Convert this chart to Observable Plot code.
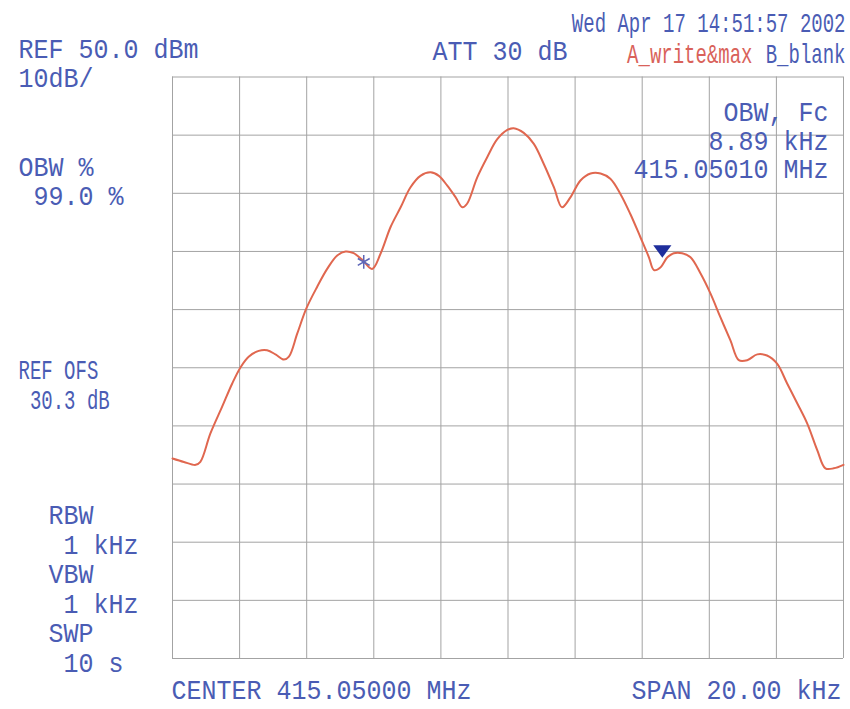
<!DOCTYPE html>
<html><head><meta charset="utf-8">
<script src="https://cdn.jsdelivr.net/npm/d3@7"></script>
<script src="https://cdn.jsdelivr.net/npm/@observablehq/plot@0.6"></script>
<style>html,body{margin:0;padding:0;background:#fff;} #chart{width:850px;height:709px;}</style>
</head><body><div id="chart"></div>
<script>
// ---- data (frequency offset from centre, kHz; level, dBm) ----
const freqKHz = [-10.0, -9.66, -9.31, -9.17, -8.87, -8.52, -8.22, -7.97, -7.73, -7.43, -7.18, -6.93, -6.68, -6.53, -6.28, -6.01, -5.69, -5.39, -5.09, -4.84, -4.60, -4.35, -4.05, -3.80, -3.50, -3.20, -2.91, -2.61, -2.31, -2.06, -1.81, -1.56, -1.36, -1.22, -0.92, -0.62, -0.32, -0.02, 0.17, 0.47, 0.77, 1.07, 1.37, 1.61, 1.86, 2.16, 2.46, 2.76, 3.05, 3.35, 3.65, 3.95, 4.20, 4.35, 4.55, 4.75, 4.94, 5.19, 5.44, 5.74, 6.04, 6.33, 6.63, 6.88, 7.13, 7.43, 7.72, 8.02, 8.32, 8.62, 8.92, 9.22, 9.46, 9.71, 10.0];
const levelDBm = [-15.6, -16.2, -16.7, -16.2, -11.3, -6.7, -2.7, 0.1, 1.9, 2.9, 3.0, 2.3, 1.4, 1.9, 5.9, 10.2, 13.9, 17.0, 19.3, 20.0, 19.7, 18.6, 17.0, 19.6, 24.2, 27.6, 31.0, 33.0, 33.6, 33.0, 31.3, 29.3, 27.6, 28.2, 32.7, 36.2, 39.3, 40.9, 41.2, 40.4, 38.5, 35.0, 31.0, 27.6, 29.3, 32.2, 33.4, 33.4, 32.5, 29.9, 26.4, 22.4, 19.0, 16.8, 17.3, 19.0, 19.7, 19.7, 19.0, 16.2, 12.7, 8.7, 4.7, 1.3, 1.3, 2.3, 2.1, 0.7, -2.7, -6.1, -9.6, -14.2, -17.3, -17.3, -16.7];
const gridFreq = [-10, -8, -6, -4, -2, 0, 2, 4, 6, 8, 10];
const gridLevel = [-50, -40, -30, -20, -10, 0, 10, 20, 30, 40, 50];
const starMarkerFreq = [-4.30];
const starMarkerLevel = [18.2];
const deltaMarkerFreq = [4.60];
const deltaMarkerLevel = [20.0];

// ---- texts ----
const refLabels = ["REF 50.0 dBm", "10dB/"];
const attLabel = "ATT 30 dB";
const dateLabel = "Wed Apr 17 14:51:57 2002";
const traceALabel = "A_write&max";
const traceBLabel = "B_blank";
const obwFcLabels = ["OBW, Fc", "8.89 kHz", "415.05010 MHz"];
const obwPctLabels = ["OBW %", "\u00a099.0 %"];
const refOfsLabels = ["REF OFS", "\u00a030.3 dB"];
const bwLabels = ["RBW", "\u00a01 kHz", "VBW", "\u00a01 kHz", "SWP", "\u00a010 s"];
const centerLabel = "CENTER 415.05000 MHz";
const spanLabel = "SPAN 20.00 kHz";

// ---- layout / style ----
const W = 850, H = 709;
const mL = 172, mT = 76.5, mR = 7, mB = 51;
const BLUE = "#4a5cb4", RED = "#d9625a", TRACE = "#e0674f", GRID = "#a3a3a3";
const FONT = "Liberation Mono, DejaVu Sans Mono, monospace";
const BIG = {s: 25, sy: 1.1}, SMALL = {s: 19, sy: 1.5};

// x, y = anchor (y = vertical centre of block), gap = pixel line spacing
const place = [
  {t: refLabels.join("\n"), x: 18, y: 63, gap: 29, a: "start", f: BIG},
  {t: attLabel, x: 432, y: 51, a: "start", f: BIG},
  {t: dateLabel, x: 845, y: 22, a: "end", f: SMALL},
  {t: traceALabel, x: 752, y: 53, a: "end", f: SMALL, c: RED},
  {t: traceBLabel, x: 845, y: 53, a: "end", f: SMALL},
  {t: obwFcLabels.join("\n"), x: 828, y: 140, gap: 28.5, a: "end", f: BIG},
  {t: obwPctLabels.join("\n"), x: 18, y: 180.5, gap: 29, a: "start", f: BIG},
  {t: refOfsLabels.join("\n"), x: 18, y: 384, gap: 30, a: "start", f: SMALL},
  {t: bwLabels.join("\n"), x: 48, y: 588, gap: 29.6, a: "start", f: BIG},
  {t: centerLabel, x: 171, y: 690, a: "start", f: BIG},
  {t: spanLabel, x: 841, y: 690, a: "end", f: BIG}
];

const trace = freqKHz.map((f, i) => ({f, l: levelDBm[i]}));
const stars = starMarkerFreq.map((f, i) => ({f, l: starMarkerLevel[i]}));
const deltas = deltaMarkerFreq.map((f, i) => ({f, l: deltaMarkerLevel[i]}));

const triDown = {
  draw(ctx, size) {
    const r = Math.sqrt(size / Math.PI);
    ctx.moveTo(-1.3 * r, -0.9 * r);
    ctx.lineTo(1.3 * r, -0.9 * r);
    ctx.lineTo(0, 0.9 * r);
    ctx.closePath();
  }
};

const textMarks = place.map(p => Plot.text([p.t], {
  text: d => d,
  frameAnchor: "top-left",
  dx: p.x - mL,
  dy: p.y - mT,
  textAnchor: p.a,
  lineAnchor: "middle",
  lineHeight: p.gap ? p.gap / (p.f.s * p.f.sy) : 1,
  fontSize: p.f.s,
  fontFamily: FONT,
  fill: p.c || BLUE
}));

const chart = Plot.plot({
  width: W, height: H,
  marginLeft: mL, marginTop: mT, marginRight: mR, marginBottom: mB,
  style: {background: "#fff", overflow: "visible"},
  x: {domain: [-10, 10], axis: null},
  y: {domain: [-50, 50], axis: null},
  marks: [
    Plot.ruleX(gridFreq, {stroke: GRID, strokeWidth: 1}),
    Plot.ruleY(gridLevel, {stroke: GRID, strokeWidth: 1}),
    Plot.line(trace, {x: "f", y: "l", stroke: TRACE, strokeWidth: 2, curve: "catmull-rom"}),
    Plot.dot(stars, {x: "f", y: "l", symbol: "asterisk", r: 6.5, stroke: "#5d66b8", strokeWidth: 1.5}),
    Plot.dot(deltas, {x: "f", y: "l", symbol: triDown, r: 7, fill: "#1f2e9c", stroke: "none"}),
    ...textMarks
  ]
});

// stretch the condensed analyser lettering vertically
const syByText = new Map(place.map(p => [p.t.replace(/\n/g, ""), p.f.sy]));
chart.querySelectorAll("text").forEach(t => {
  const sy = syByText.get(t.textContent);
  if (sy) t.setAttribute("transform", (t.getAttribute("transform") || "") + ` scale(1,${sy})`);
});

document.getElementById("chart").appendChild(chart);
</script>
</body></html>
